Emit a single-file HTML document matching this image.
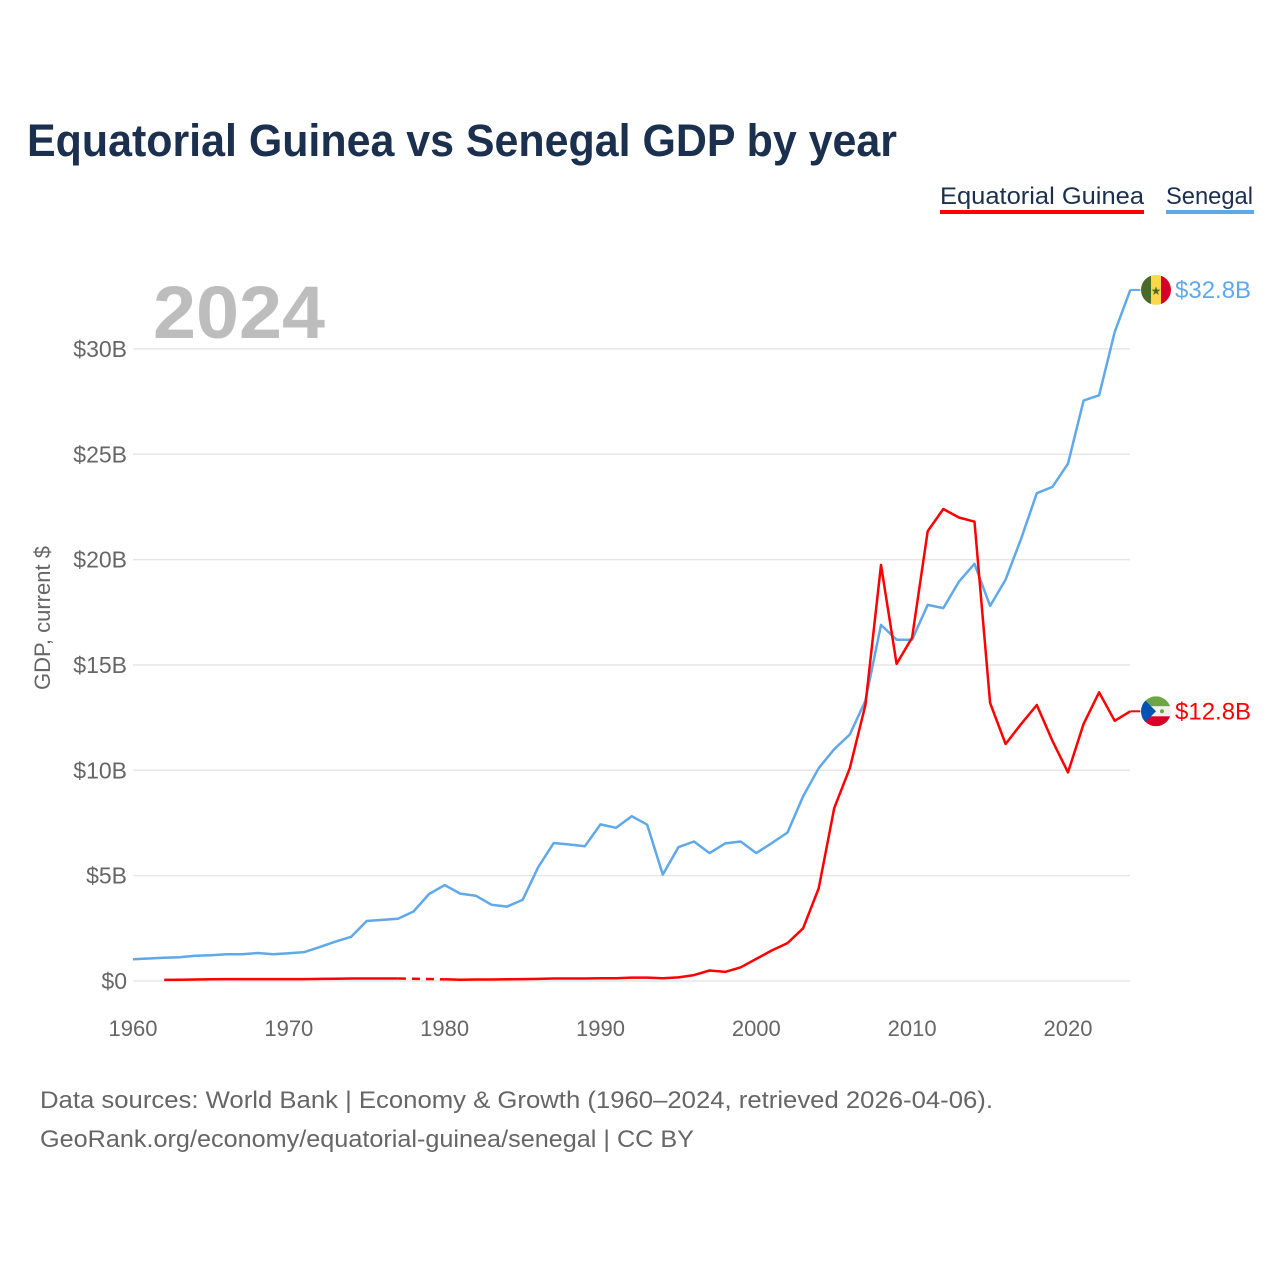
<!DOCTYPE html>
<html><head><meta charset="utf-8"><style>
body{margin:0;background:#fff;}
svg{display:block;font-family:"Liberation Sans",sans-serif;}
</style></head><body>
<svg id="chart" width="1280" height="1280" viewBox="0 0 1280 1280">
<text x="27" y="156" font-size="45" font-weight="bold" fill="#1b2f4e" textLength="870" lengthAdjust="spacingAndGlyphs">Equatorial Guinea vs Senegal GDP by year</text>
<g>
<text x="940" y="204" font-size="24" fill="#1b2f4e" textLength="204" lengthAdjust="spacingAndGlyphs">Equatorial Guinea</text>
<rect x="940" y="210" width="204" height="4" fill="#ff0000"/>
<text x="1166" y="204" font-size="24" fill="#1b2f4e" textLength="87" lengthAdjust="spacingAndGlyphs">Senegal</text>
<rect x="1166" y="210" width="88" height="4" fill="#5fa8ea"/>
</g>
<text x="153" y="338" font-size="74" font-weight="bold" fill="#bdbdbd" textLength="172" lengthAdjust="spacingAndGlyphs">2024</text>
<text transform="translate(50,618) rotate(-90)" text-anchor="middle" font-size="22" fill="#666">GDP, current $</text>
<g id="grid"></g><g id="series"></g><g id="labels"></g>
<text x="40" y="1108" font-size="24" fill="#666" textLength="953" lengthAdjust="spacingAndGlyphs">Data sources: World Bank | Economy &amp; Growth (1960–2024, retrieved 2026-04-06).</text>
<text x="40" y="1147" font-size="24" fill="#666" textLength="654" lengthAdjust="spacingAndGlyphs">GeoRank.org/economy/equatorial-guinea/senegal | CC BY</text>
</svg>
<script>
const years=[];for(let y=1960;y<=2024;y++)years.push(y);
const yTicks=[0,5,10,15,20,25,30];
const yTickLabels=["$0","$5B","$10B","$15B","$20B","$25B","$30B"];
const xTicks=[1960,1970,1980,1990,2000,2010,2020];
const senegal=[1.03,1.07,1.1,1.13,1.2,1.22,1.27,1.27,1.33,1.27,1.32,1.37,1.62,1.87,2.1,2.85,2.9,2.95,3.3,4.13,4.55,4.15,4.05,3.62,3.53,3.85,5.4,6.55,6.48,6.4,7.43,7.27,7.82,7.42,5.05,6.35,6.62,6.07,6.53,6.62,6.07,6.55,7.05,8.76,10.1,11.0,11.7,13.3,16.9,16.2,16.2,17.85,17.7,18.95,19.8,17.8,19.05,21.0,23.15,23.45,24.55,27.55,27.8,30.8,32.8];
const eqGuinea=[null,null,0.05,0.06,0.07,0.08,0.09,0.09,0.09,0.09,0.09,0.09,0.1,0.11,0.12,0.12,0.12,0.12,null,null,0.08,0.06,0.07,0.07,0.08,0.09,0.1,0.12,0.12,0.12,0.13,0.13,0.16,0.16,0.13,0.17,0.28,0.5,0.43,0.65,1.05,1.45,1.8,2.5,4.4,8.2,10.1,13.1,19.75,15.05,16.3,21.35,22.4,22.0,21.8,13.2,11.25,12.2,13.1,11.4,9.9,12.2,13.7,12.35,12.8];
const NS="http://www.w3.org/2000/svg";
const X=y=>133+(y-1960)*15.583, Y=v=>981-v*21.07;
function mk(t,a,p){const e=document.createElementNS(NS,t);for(const k in a)e.setAttribute(k,a[k]);p.appendChild(e);return e;}
const grid=document.getElementById('grid'),ser=document.getElementById('series'),lab=document.getElementById('labels');
yTicks.forEach((v,i)=>{
 const l=mk('line',{x1:133,x2:1130,y1:Y(v),y2:Y(v),stroke:'#e6e6e6','stroke-width':1.5},grid);
 
 
 const t=mk('text',{x:127,y:Y(v)+8,'text-anchor':'end','font-size':23,fill:'#666'},grid);t.textContent=yTickLabels[i];
 
 
});
xTicks.forEach(yr=>{
 const t=mk('text',{x:X(yr),y:1036,'text-anchor':'middle','font-size':22,fill:'#666'},grid);t.textContent=yr;
 
 
});
function draw(vals,color,name){
 let d='',pen=false,last=null;
 vals.forEach((v,i)=>{
  if(v==null){pen=false;return;}
  const x=X(years[i]),y=Y(v);
  if(!pen&&last){const g=mk('line',{x1:X(years[last]),y1:Y(vals[last]),x2:x,y2:y,stroke:color,'stroke-width':2.5,'stroke-dasharray':'8 6'},ser);
   
   }
  d+=(pen?'L':'M')+x.toFixed(1)+' '+y.toFixed(1);pen=true;last=i;
 });
 const p=mk('path',{d:d,fill:'none',stroke:color,'stroke-width':2.5,'stroke-linejoin':'round'},ser);
 
 
 return Y(vals[vals.length-1]);
}
const ys=draw(senegal,'#5fa8ea','senegal');
const ye=draw(eqGuinea,'#ff0000','equatorial-guinea');
function endLabel(y,color,txt,name,flag){
 const x0=X(2024);
 mk('line',{x1:x0,x2:x0+10,y1:y,y2:y,stroke:color,'stroke-width':2},lab);
 const g=mk('g',{},lab);
 
 
 const id='c'+name;
 const cp=mk('clipPath',{id:id},g);mk('circle',{cx:1156,cy:y,r:15},cp);
 const f=mk('g',{'clip-path':'url(#'+id+')'},g);flag(f,y);
 const t=mk('text',{x:1175,y:y+8,'font-size':24,fill:color},lab);t.textContent=txt;
 
 
}
endLabel(ys,'#5fa8ea','$32.8B','senegal',(f,y)=>{
 mk('rect',{x:1141,y:y-15,width:10,height:30,fill:'#4a6a2a'},f);
 mk('rect',{x:1151,y:y-15,width:10,height:30,fill:'#fcd848'},f);
 mk('rect',{x:1161,y:y-15,width:10,height:30,fill:'#d80027'},f);
 const s=mk('text',{x:1156,y:y+5,'text-anchor':'middle','font-size':12,fill:'#4a6a2a'},f);s.textContent='★';
});
endLabel(ye,'#ff0000','$12.8B','equatorial-guinea',(f,y)=>{
 mk('rect',{x:1141,y:y-15,width:30,height:10,fill:'#6da544'},f);
 mk('rect',{x:1141,y:y-5,width:30,height:10,fill:'#f0f0f0'},f);
 mk('rect',{x:1141,y:y+5,width:30,height:10,fill:'#d80027'},f);
 mk('polygon',{points:`1141,${y-15} 1156,${y} 1141,${y+15}`,fill:'#0052b4'},f);
 mk('circle',{cx:1162,cy:y,r:2,fill:'#6da544'},f);
});
</script>
</body></html>
